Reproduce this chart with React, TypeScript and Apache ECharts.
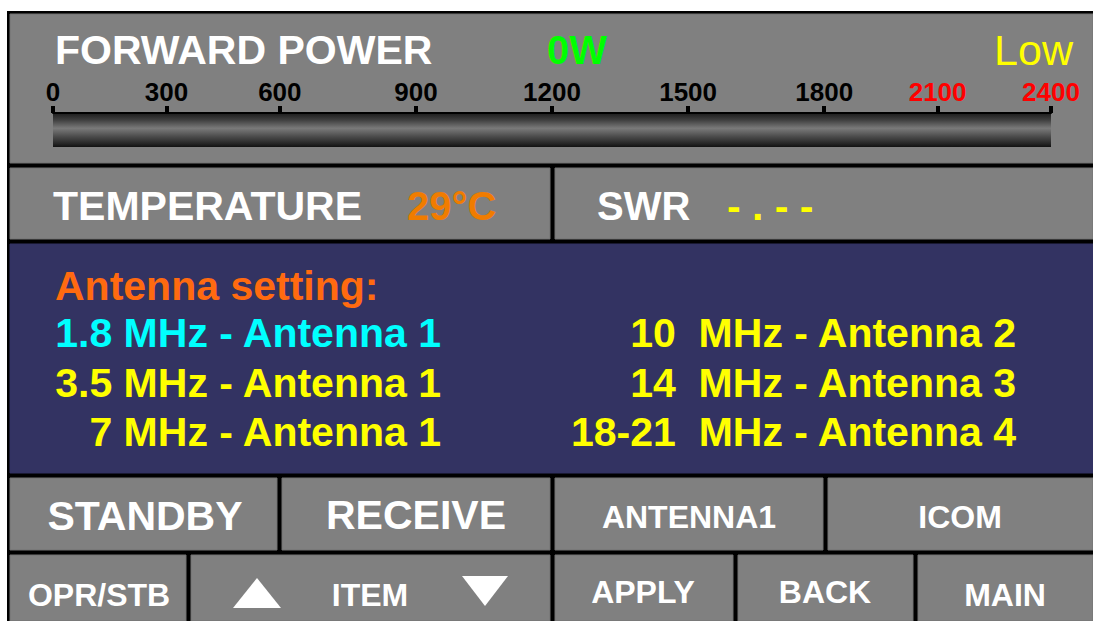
import React, { useEffect, useRef } from 'react';
import * as echarts from 'echarts';

// ---- data ----
const meterTickLabels = ['0', '300', '600', '900', '1200', '1500', '1800', '2100', '2400'];
const meterTickWatts = [0, 300, 600, 900, 1200, 1500, 1800, 2100, 2400];
// non-linear meter scale: position of each tick on the scale (in scale units)
const meterTickPositions = [0, 1, 2, 3.2, 4.4, 5.6, 6.8, 7.8, 8.8];
const meterRedFrom = 2100;
const forwardPowerWatts = [0];
const powerLabel = '0W';
const powerMode = 'Low';
const temperatureLabel = 'TEMPERATURE';
const temperatureValue = '29°C';
const swrLabel = 'SWR';
const swrValue = '- . - -';
const forwardTitle = 'FORWARD POWER';
const antennaTitle = 'Antenna setting:';
const antennaLeft = ['1.8 MHz - Antenna 1', '3.5 MHz - Antenna 1', '7 MHz - Antenna 1'];
const antennaLeftColors = ['#00ffff', '#ffff00', '#ffff00'];
const antennaRight = ['10  MHz - Antenna 2', '14  MHz - Antenna 3', '18-21  MHz - Antenna 4'];
const buttonsTop = ['STANDBY', 'RECEIVE', 'ANTENNA1', 'ICOM'];
const buttonsBottom = ['OPR/STB', 'ITEM', 'APPLY', 'BACK', 'MAIN'];

const FONT = '"Liberation Sans", Arial, Helvetica, sans-serif';
const GREY = '#808080';
const NAVY = '#333362';

function wattsToScale(w: number): number {
  for (let i = 1; i < meterTickWatts.length; i++) {
    if (w <= meterTickWatts[i]) {
      const a = meterTickWatts[i - 1], b = meterTickWatts[i];
      const pa = meterTickPositions[i - 1], pb = meterTickPositions[i];
      return pa + ((w - a) / (b - a)) * (pb - pa);
    }
  }
  return meterTickPositions[meterTickPositions.length - 1];
}

function labelFor(v: number): string {
  const i = meterTickPositions.findIndex((p) => Math.abs(p - v) < 1e-6);
  return i >= 0 ? meterTickLabels[i] : '';
}

function wattsFor(v: number): number {
  const i = meterTickPositions.findIndex((p) => Math.abs(p - v) < 1e-6);
  return i >= 0 ? meterTickWatts[i] : 0;
}

function txt(text: string, x: number, y: number, size: number, fill: string, align = 'left', weight = 'bold') {
  return {
    type: 'text',
    x,
    y,
    z: 20,
    silent: true,
    style: {
      text,
      fill,
      font: `${weight} ${size}px ${FONT}`,
      textAlign: align,
      textVerticalAlign: 'middle',
    },
  };
}

function cell(x: number, y: number, w: number, h: number, fill = GREY) {
  return {
    type: 'rect',
    z: -5,
    silent: true,
    shape: { x, y, width: w, height: h },
    style: { fill, stroke: fill === GREY ? '#727272' : fill, lineWidth: 1 },
  };
}

export default function App() {
  const ref = useRef<HTMLDivElement>(null);

  useEffect(() => {
    if (!ref.current) return;
    const chart = echarts.init(ref.current, undefined, { renderer: 'svg' });

    const cells = [
      // outer black frame
      { type: 'rect', z: -10, silent: true, shape: { x: 7, y: 11, width: 1086, height: 610 }, style: { fill: '#000' } },
      cell(10, 14, 1083, 149),
      cell(10, 168, 540, 71),
      cell(555, 168, 538, 71),
      cell(10, 244, 1083, 229, NAVY),
      cell(10, 478, 267, 72),
      cell(282, 478, 268, 72),
      cell(555, 478, 268, 72),
      cell(828, 478, 265, 72),
      cell(10, 555, 176, 66),
      cell(191, 555, 359, 66),
      cell(555, 555, 178, 66),
      cell(738, 555, 175, 66),
      cell(918, 555, 175, 66),
    ];

    const texts = [
      txt(forwardTitle, 55, 50, 41, '#ffffff'),
      txt(powerLabel, 547, 50, 40, '#00ff00'),
      txt(powerMode, 1073, 50, 43, '#ffff00', 'right', 'normal'),
      txt(temperatureLabel, 53, 206, 41, '#ffffff'),
      txt(temperatureValue, 407, 206, 40, '#f07c00'),
      txt(swrLabel, 597, 206, 40, '#ffffff'),
      txt(swrValue, 727, 206, 41, '#ffff00'),
      txt(antennaTitle, 55, 286, 41, '#ff6a10'),
      ...antennaLeft.map((t, i) => txt(t, 441, 333 + i * 49.5, 41, antennaLeftColors[i], 'right')),
      ...antennaRight.map((t, i) => txt(t, 1016, 333 + i * 49.5, 41, '#ffff00', 'right')),
      txt(buttonsTop[0], 145, 516, 41, '#ffffff', 'center'),
      txt(buttonsTop[1], 416, 515, 41, '#ffffff', 'center'),
      txt(buttonsTop[2], 689, 517, 32, '#ffffff', 'center'),
      txt(buttonsTop[3], 960, 517, 32, '#ffffff', 'center'),
      txt(buttonsBottom[0], 99, 595, 32, '#ffffff', 'center'),
      txt(buttonsBottom[1], 370, 595, 32, '#ffffff', 'center'),
      txt(buttonsBottom[2], 643, 592, 32, '#ffffff', 'center'),
      txt(buttonsBottom[3], 825, 592, 32, '#ffffff', 'center'),
      txt(buttonsBottom[4], 1005, 595, 32, '#ffffff', 'center'),
      {
        type: 'polygon', z: 20, silent: true,
        shape: { points: [[233, 608], [281, 608], [257, 578]] },
        style: { fill: '#ffffff' },
      },
      {
        type: 'polygon', z: 20, silent: true,
        shape: { points: [[462, 576], [508, 576], [485, 606]] },
        style: { fill: '#ffffff' },
      },
    ];

    const maxScale = meterTickPositions[meterTickPositions.length - 1];

    chart.setOption({
      animation: false,
      graphic: { elements: [...cells, ...texts] },
      grid: { left: 53, top: 113, width: 998, height: 34, containLabel: false },
      xAxis: {
        type: 'value',
        position: 'top',
        min: 0,
        max: maxScale,
        z: 10,
        axisLine: { show: true, onZero: false, lineStyle: { color: '#000', width: 2 } },
        axisTick: {
          show: true,
          length: 7,
          customValues: meterTickPositions,
          lineStyle: { color: '#000', width: 4 },
        },
        axisLabel: {
          show: true,
          customValues: meterTickPositions,
          margin: 8,
          fontFamily: FONT,
          fontWeight: 'bold',
          fontSize: 26,
          formatter: (v: number) => labelFor(v),
          color: (v: any) => (wattsFor(Number(v)) >= meterRedFrom ? '#ff0000' : '#000000'),
        },
        splitLine: { show: false },
      },
      yAxis: {
        type: 'category',
        data: ['power'],
        show: false,
      },
      series: [
        {
          type: 'bar',
          z: 5,
          barWidth: 34,
          data: forwardPowerWatts.map(wattsToScale),
          itemStyle: { color: '#00ff00' },
          showBackground: true,
          backgroundStyle: {
            color: new echarts.graphic.LinearGradient(0, 0, 0, 1, [
              { offset: 0, color: '#1c1c1c' },
              { offset: 0.2, color: '#3e3e3e' },
              { offset: 0.45, color: '#7a7a7a' },
              { offset: 0.7, color: '#4a4a4a' },
              { offset: 0.9, color: '#262626' },
              { offset: 1, color: '#111111' },
            ]),
          },
        },
      ],
    });

    return () => chart.dispose();
  }, []);

  return <div ref={ref} style={{ position: 'absolute', left: 0, top: 0, width: 1093, height: 621 }} />;
}
